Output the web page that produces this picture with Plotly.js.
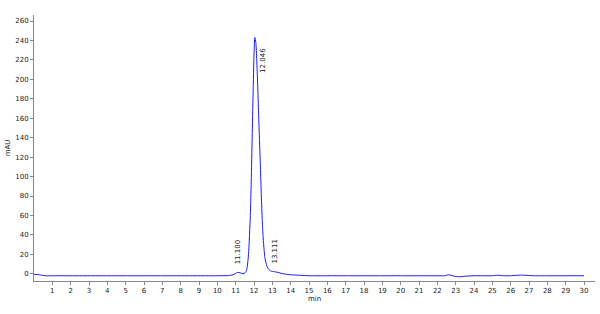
<!DOCTYPE html>
<html>
<head>
<meta charset="utf-8">
<script src="https://cdn.plot.ly/plotly-3.0.1.min.js"></script>
<style>html,body{margin:0;padding:0;background:#fff;}#chart{width:600px;height:314px;}</style>
</head>
<body>
<div id="chart"></div>
<script>
// Retention time (min) and absorbance (mAU)
const timeMin = [0, 0.3, 0.6, 1, 2, 3, 4, 5, 6, 7, 8, 9, 10, 10.6, 10.85, 11.0, 11.1, 11.25, 11.4, 11.5,
  11.6, 11.7, 11.8, 11.85, 11.9, 11.95, 12.0, 12.046, 12.1, 12.15, 12.2, 12.25, 12.3, 12.35, 12.4, 12.45,
  12.5, 12.55, 12.6, 12.7, 12.8, 12.9, 13.0, 13.111, 13.3, 13.6, 14.0, 14.5, 15, 16, 17, 18, 19, 20, 21,
  22, 22.4, 22.6, 22.8, 23.0, 23.2, 23.5, 24, 25, 25.3, 25.6, 26, 26.3, 26.6, 26.9, 27.3, 28, 29, 30];
const absorbance = [-0.5, -1, -2, -2, -2, -2, -2, -2, -2, -2, -2, -2, -2, -1.8, -1, 0.5, 1.5, 0.9, 0.1, 0.8,
  4, 20, 60, 95, 140, 185, 225, 243, 238, 220, 195, 165, 137, 110, 80, 55,
  37, 25, 16, 8, 4.5, 3, 2.5, 2.2, 1.4, 0, -1, -1.5, -2, -2, -2, -2, -2, -2, -2,
  -2, -2, -1, -1.8, -2.8, -3, -2.5, -2, -2, -1.5, -2, -2, -1.6, -1.4, -1.6, -2, -2, -2, -2];
const peakTimes = [11.100, 12.046, 13.111];
const peakLabels = ["11.100", "12.046", "13.111"];
const peakHeights = [1.5, 243, 2.2];
const xTickVals = [1,2,3,4,5,6,7,8,9,10,11,12,13,14,15,16,17,18,19,20,21,22,23,24,25,26,27,28,29,30];
const yTickVals = [0,20,40,60,80,100,120,140,160,180,200,220,240,260];

const font = {family: "DejaVu Sans, Verdana, sans-serif", size: 7, color: "#222"};

const annotations = peakTimes.map((t, i) => {
  const big = peakHeights[i] > 100;
  return {
    x: t, y: peakHeights[i], xref: "x", yref: "y",
    text: peakLabels[i], showarrow: false, textangle: -90,
    font: font,
    xanchor: "center",
    yanchor: big ? "top" : "bottom",
    xshift: big ? 8 : (i === 2 ? 1 : 0),
    yshift: big ? -8 : 6
  };
});

Plotly.newPlot("chart", [{
  x: timeMin, y: absorbance, type: "scatter", mode: "lines",
  line: {color: "#1a1aff", width: 1, shape: "spline", smoothing: 0.6},
  hoverinfo: "skip"
}], {
  width: 600, height: 314,
  margin: {l: 34, r: 5, t: 15, b: 33, pad: 0},
  paper_bgcolor: "#fff", plot_bgcolor: "#fff",
  showlegend: false,
  font: font,
  xaxis: {
    range: [0, 30.6], tickvals: xTickVals, ticktext: xTickVals.map(String),
    ticks: "outside", ticklen: 3, tickcolor: "#888", tickwidth: 1,
    showline: true, linecolor: "#888", linewidth: 1, showgrid: false, zeroline: false,
    tickfont: font,
    title: {text: "min", font: font, standoff: 0}
  },
  yaxis: {
    range: [-7.4, 266.2], tickvals: yTickVals, ticktext: yTickVals.map(String),
    ticks: "outside", ticklen: 3, tickcolor: "#888", tickwidth: 1,
    showline: true, linecolor: "#888", linewidth: 1, showgrid: false, zeroline: false,
    tickfont: font,
    title: {text: "mAU", font: font, standoff: 3}
  },
  annotations: annotations
}, {staticPlot: true, displayModeBar: false});
</script>
</body>
</html>
